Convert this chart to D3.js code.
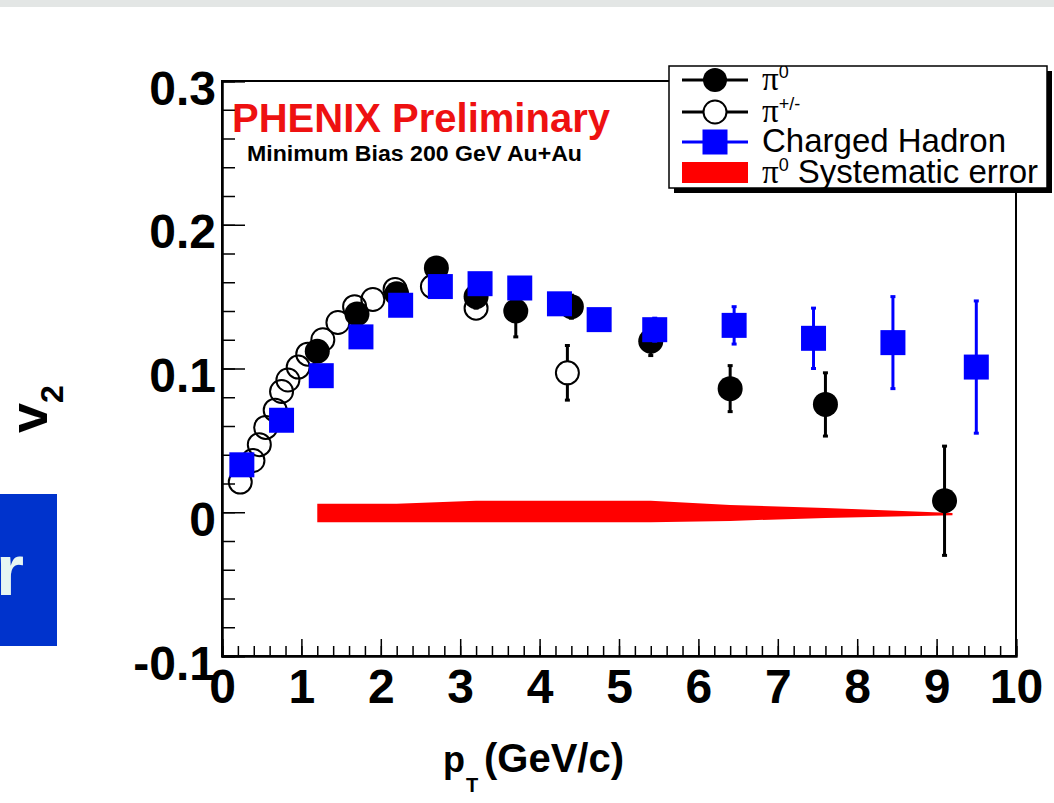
<!DOCTYPE html>
<html>
<head>
<meta charset="utf-8">
<script src="https://cdn.jsdelivr.net/npm/d3@7"></script>
<style>
  html, body { margin: 0; padding: 0; background: #ffffff; }
  svg { display: block; }
  text { font-family: "Liberation Sans", Arial, Helvetica, sans-serif; }
</style>
</head>
<body>
<svg id="chart" width="1054" height="803"></svg>
<script>
// pi0 v2 (filled circles)
const pi0Pt  = [1.2, 1.7, 2.2, 2.7, 3.2, 3.7, 4.4, 5.4, 6.4, 7.6, 9.1];
const pi0V2  = [0.112, 0.138, 0.152, 0.170, 0.150, 0.140, 0.143, 0.119, 0.086, 0.075, 0.008];
const pi0Err = [0.003, 0.004, 0.005, 0.006, 0.008, 0.018, 0.008, 0.010, 0.016, 0.022, 0.038];

// charged pion v2 (open circles)
const pipmPt  = [0.23, 0.39, 0.47, 0.55, 0.67, 0.75, 0.83, 0.96, 1.08, 1.27, 1.46, 1.67, 1.90, 2.18, 2.65, 3.2, 4.35];
const pipmV2  = [0.021, 0.036, 0.047, 0.059, 0.071, 0.084, 0.092, 0.101, 0.110, 0.120, 0.132, 0.143, 0.148, 0.155, 0.157, 0.142, 0.097];
const pipmErr = [0.002, 0.002, 0.002, 0.002, 0.002, 0.002, 0.002, 0.002, 0.002, 0.002, 0.002, 0.002, 0.003, 0.003, 0.003, 0.004, 0.019];

// charged hadron v2 (blue squares)
const hadPt  = [0.25, 0.75, 1.25, 1.75, 2.25, 2.75, 3.25, 3.75, 4.25, 4.75, 5.45, 6.45, 7.45, 8.45, 9.5];
const hadV2  = [0.033, 0.064, 0.095, 0.122, 0.144, 0.157, 0.159, 0.156, 0.145, 0.134, 0.127, 0.130, 0.121, 0.118, 0.101];
const hadErr = [0.001, 0.001, 0.002, 0.002, 0.003, 0.004, 0.005, 0.006, 0.006, 0.007, 0.008, 0.013, 0.021, 0.032, 0.046];

// pi0 systematic error band around zero
const sysPt   = [1.2, 1.7, 2.2, 2.7, 3.2, 3.7, 4.4, 5.4, 6.4, 7.6, 9.2];
const sysHigh = [0.006, 0.006, 0.006, 0.007, 0.008, 0.008, 0.008, 0.008, 0.005, 0.003, -0.0005];
const sysLow  = [-0.007, -0.007, -0.007, -0.007, -0.007, -0.007, -0.007, -0.007, -0.006, -0.004, -0.002];

// axis ticks
const xMajor = [0, 1, 2, 3, 4, 5, 6, 7, 8, 9, 10];
const xTickLabels = ["0", "1", "2", "3", "4", "5", "6", "7", "8", "9", "10"];
const yMajor = [-0.1, 0, 0.1, 0.2, 0.3];
const yTickLabels = ["-0.1", "0", "0.1", "0.2", "0.3"];

const svg = d3.select("#chart");

const frame = { left: 222, right: 1016, top: 81, bottom: 656 };
const x = d3.scaleLinear().domain([0, 10]).range([frame.left, frame.right]);
const y = d3.scaleLinear().domain([-0.1, 0.3]).range([frame.bottom, frame.top]);

// page strip at the top
svg.append("rect").attr("x", 0).attr("y", 0).attr("width", 1054).attr("height", 7).attr("fill", "#e3e6e5");

// slide panel on the left edge
svg.append("rect").attr("x", 0).attr("y", 494).attr("width", 57).attr("height", 152).attr("fill", "#0033cc");
svg.append("text").attr("x", 24).attr("y", 595).attr("text-anchor", "end")
  .attr("font-size", 72).attr("font-weight", "bold").attr("fill", "#e6f6f2").text("r");

// frame
svg.append("rect")
  .attr("x", frame.left).attr("y", frame.top)
  .attr("width", frame.right - frame.left).attr("height", frame.bottom - frame.top)
  .attr("fill", "none").attr("stroke", "#000").attr("stroke-width", 2);

// x axis: minor ticks every 0.2, major every 1
const xMinorVals = d3.range(0, 51).map(i => i * 0.2);
const gxMinor = svg.append("g").attr("transform", `translate(0,${frame.bottom})`)
  .call(d3.axisBottom(x).tickValues(xMinorVals).tickSize(-10).tickFormat(""));
const gx = svg.append("g").attr("transform", `translate(0,${frame.bottom})`)
  .call(d3.axisBottom(x).tickValues(xMajor).tickSize(-17)
    .tickFormat((d, i) => xTickLabels[i]));
[gxMinor, gx].forEach(g => {
  g.select(".domain").attr("stroke", "#000").attr("stroke-width", 2);
  g.selectAll(".tick line").attr("stroke", "#000").attr("stroke-width", 1.5);
});
gx.selectAll(".tick text")
  .attr("font-family", "Liberation Sans, Arial, sans-serif")
  .attr("font-size", 48).attr("font-weight", "bold").attr("fill", "#000")
  .attr("dy", null).attr("y", 47);

// y axis: minor ticks every 0.02, major every 0.1
const yMinorVals = d3.range(0, 21).map(i => -0.1 + i * 0.02);
const gyMinor = svg.append("g").attr("transform", `translate(${frame.left},0)`)
  .call(d3.axisLeft(y).tickValues(yMinorVals).tickSize(-13).tickFormat(""));
const gy = svg.append("g").attr("transform", `translate(${frame.left},0)`)
  .call(d3.axisLeft(y).tickValues(yMajor).tickSize(-23)
    .tickFormat((d, i) => yTickLabels[i]));
[gyMinor, gy].forEach(g => {
  g.select(".domain").attr("stroke", "#000").attr("stroke-width", 2);
  g.selectAll(".tick line").attr("stroke", "#000").attr("stroke-width", 1.5);
});
gy.selectAll(".tick text")
  .attr("font-family", "Liberation Sans, Arial, sans-serif")
  .attr("font-size", 48).attr("font-weight", "bold").attr("fill", "#000")
  .attr("x", -6).attr("dy", null).attr("y", 23);

// axis titles
const xt = svg.append("text").attr("font-weight", "bold").attr("fill", "#000");
xt.append("tspan").attr("x", 443).attr("y", 772).attr("font-size", 36).text("p");
xt.append("tspan").attr("x", 466).attr("y", 792).attr("font-size", 20).text("T");
xt.append("tspan").attr("x", 484).attr("y", 772).attr("font-size", 40).text("(GeV/c)");

const yt = svg.append("text").attr("font-weight", "bold").attr("fill", "#000")
  .attr("transform", "translate(47,433) rotate(-90)");
yt.append("tspan").attr("font-size", 54).text("v");
yt.append("tspan").attr("font-size", 32).attr("dy", 16).text("2");

// plot labels
svg.append("text").attr("x", 232).attr("y", 132).attr("font-size", 40).attr("font-weight", "bold")
  .attr("fill", "#ee1111").attr("textLength", 378).attr("lengthAdjust", "spacingAndGlyphs")
  .text("PHENIX Preliminary");
svg.append("text").attr("x", 247).attr("y", 161).attr("font-size", 22).attr("font-weight", "bold")
  .attr("fill", "#000").attr("textLength", 335).attr("lengthAdjust", "spacingAndGlyphs")
  .text("Minimum Bias 200 GeV Au+Au");

// systematic band
const band = sysPt.map((p, i) => ({ p, lo: sysLow[i], hi: sysHigh[i] }));
svg.append("path").datum(band)
  .attr("fill", "#ff0000")
  .attr("d", d3.area().x(d => x(d.p)).y0(d => y(d.lo)).y1(d => y(d.hi)));

// error bars, drawn only outside the marker as the plotting package does
function errorBars(pts, vals, errs, color, gap) {
  const rows = pts.map((p, i) => ({ p, v: vals[i], e: errs[i] }));
  const g = svg.append("g").attr("stroke", color).attr("stroke-width", 3);
  rows.forEach(d => {
    const cx = x(d.p), cy = y(d.v);
    const top = y(d.v + d.e), bot = y(d.v - d.e);
    if (cy - gap > top) {
      g.append("line").attr("x1", cx).attr("x2", cx).attr("y1", top).attr("y2", cy - gap);
      g.append("line").attr("x1", cx - 2.5).attr("x2", cx + 2.5).attr("y1", top).attr("y2", top);
    }
    if (bot > cy + gap) {
      g.append("line").attr("x1", cx).attr("x2", cx).attr("y1", cy + gap).attr("y2", bot);
      g.append("line").attr("x1", cx - 2.5).attr("x2", cx + 2.5).attr("y1", bot).attr("y2", bot);
    }
  });
  return rows;
}

// charged pions
const pipmRows = errorBars(pipmPt, pipmV2, pipmErr, "#000", 11);
svg.append("g").selectAll("circle").data(pipmRows).join("circle")
  .attr("cx", d => x(d.p)).attr("cy", d => y(d.v)).attr("r", 11.5)
  .attr("fill", "none").attr("stroke", "#000").attr("stroke-width", 2);

// neutral pions
const pi0Rows = errorBars(pi0Pt, pi0V2, pi0Err, "#000", 11);
svg.append("g").selectAll("circle").data(pi0Rows).join("circle")
  .attr("cx", d => x(d.p)).attr("cy", d => y(d.v)).attr("r", 12.5)
  .attr("fill", "#000");

// charged hadrons
const hadRows = errorBars(hadPt, hadV2, hadErr, "#0000ff", 11);
svg.append("g").selectAll("rect").data(hadRows).join("rect")
  .attr("x", d => x(d.p) - 12.5).attr("y", d => y(d.v) - 12.5)
  .attr("width", 25).attr("height", 25).attr("fill", "#0000ff");

// legend
const lg = { x: 669, y: 66, w: 378, h: 122 };
svg.append("rect").attr("x", lg.x + 5).attr("y", lg.y + 5).attr("width", lg.w).attr("height", lg.h).attr("fill", "#000");
svg.append("rect").attr("x", lg.x).attr("y", lg.y).attr("width", lg.w).attr("height", lg.h)
  .attr("fill", "#fff").attr("stroke", "#000").attr("stroke-width", 1.5);
svg.append("clipPath").attr("id", "legendClip")
  .append("rect").attr("x", lg.x).attr("y", lg.y).attr("width", lg.w - 1).attr("height", lg.h);

const legendRows = [
  { cy: 80, kind: "pi0", color: "#000", sup: "0", label: "" },
  { cy: 112, kind: "pipm", color: "#000", sup: "+/-", label: "" },
  { cy: 142, kind: "had", color: "#0000ff", sup: null, label: "Charged Hadron" },
  { cy: 173, kind: "sys", color: "#ff0000", sup: "0", label: " Systematic error" }
];
const lgItems = svg.append("g");
legendRows.forEach(r => {
  const g = lgItems.append("g");
  if (r.kind === "sys") {
    g.append("rect").attr("x", 682).attr("y", r.cy - 11).attr("width", 66).attr("height", 21).attr("fill", "#ff0000");
  } else {
    g.append("line").attr("x1", 682).attr("x2", 748).attr("y1", r.cy).attr("y2", r.cy)
      .attr("stroke", r.color).attr("stroke-width", 3);
    if (r.kind === "pi0") {
      g.append("circle").attr("cx", 715).attr("cy", r.cy).attr("r", 12).attr("fill", "#000");
    } else if (r.kind === "pipm") {
      g.append("circle").attr("cx", 715).attr("cy", r.cy).attr("r", 11.5).attr("fill", "#fff")
        .attr("stroke", "#000").attr("stroke-width", 2);
    } else {
      g.append("rect").attr("x", 715 - 12.5).attr("y", r.cy - 12.5).attr("width", 25).attr("height", 25).attr("fill", "#0000ff");
    }
  }
  const t = g.append("text").attr("x", 762).attr("y", r.cy + 10).attr("font-size", 33)
    .attr("fill", "#000").attr("clip-path", "url(#legendClip)");
  if (r.sup !== null) {
    t.append("tspan").attr("font-family", "Liberation Serif, Times New Roman, serif").text("π");
    t.append("tspan").attr("font-size", 18).attr("dy", -12).text(r.sup);
    if (r.label) t.append("tspan").attr("dy", 12).text(r.label);
  } else {
    t.text(r.label);
  }
});
</script>
</body>
</html>
